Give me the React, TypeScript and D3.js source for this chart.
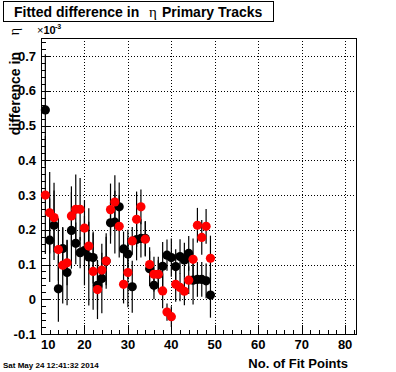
import * as d3 from 'd3';

// bins (no. of fit points)
const fitPoints = [11, 12, 13, 14, 15, 16, 17, 18, 19, 20, 21, 22, 23, 24, 25, 26, 27, 28, 29, 30,
  31, 32, 33, 34, 35, 36, 37, 38, 39, 40, 41, 42, 43, 44, 45, 46, 47, 48, 49];

// black series (x10^-3)
const blackVals = [0.545, 0.17, 0.213, 0.03, 0.146, 0.077, 0.198, 0.161, 0.134, 0.14, 0.122, 0.12, 0.04, 0.06, 0.11,
  0.22, 0.222, 0.266, 0.145, 0.13, 0.036, 0.172, 0.175, 0.175, 0.088, 0.04, 0.072, 0.095, 0.127, 0.12,
  0.094, 0.123, 0.113, 0.132, 0.055, 0.057, 0.057, 0.053, 0.012];
const blackErrs = [0.16, 0.12, 0.1, 0.095, 0.06, 0.094, 0.11, 0.06, 0.045, 0.1, 0.14, 0.075, 0.07, 0.1, 0.07,
  0.06, 0.09, 0.07, 0.05, 0.07, 0.075, 0.06, 0.055, 0.05, 0.05, 0.04, 0.05, 0.07, 0.045, 0.055,
  0.05, 0.05, 0.05, 0.05, 0.07, 0.05, 0.05, 0.05, 0.065];

// red series (x10^-3)
const redVals = [0.3, 0.249, 0.235, 0.143, 0.098, 0.105, 0.24, 0.259, 0.259, 0.205, 0.153, 0.08, 0.028, 0.084, 0.11,
  0.258, 0.28, 0.21, 0.043, 0.077, 0.168, 0.23, 0.266, 0.173, 0.1, 0.072, 0.072, 0.024, -0.037, -0.05,
  0.043, 0.034, 0.023, 0.055, 0.115, 0.213, 0.178, 0.21, 0.118];
const redErrs = [0.17, 0.117, 0.1, 0.09, 0.11, 0.065, 0.085, 0.1, 0.09, 0.08, 0.07, 0.11, 0.085, 0.05, 0.08,
  0.075, 0.077, 0.09, 0.055, 0.1, 0.04, 0.08, 0.05, 0.05, 0.05, 0.05, 0.04, 0.05, 0.025, 0.03,
  0.05, 0.04, 0.04, 0.04, 0.06, 0.05, 0.05, 0.05, 0.065];

const xTicks = [10, 20, 30, 40, 50, 60, 70, 80];
const yTicks = [-0.1, 0, 0.1, 0.2, 0.3, 0.4, 0.5, 0.6, 0.7];
const yTickLabels = ['-0.1', '0', '0.1', '0.2', '0.3', '0.4', '0.5', '0.6', '0.7'];

const W = 396;
const H = 372;
const frame = { left: 41, right: 356, top: 38, bottom: 334 };
const font = "'Liberation Sans', Arial, Helvetica, sans-serif";

export default function App() {
  const x = d3.scaleLinear().domain([10, 82.5]).range([frame.left, frame.right]);
  const y = d3.scaleLinear().domain([-0.1, 0.752]).range([frame.bottom, frame.top]);

  const xMinor = d3.range(10, 83, 2);
  const yMinor = d3.range(-5, 38).map(i => i * 0.02);

  const series = [
    { vals: blackVals, errs: blackErrs, color: '#000000' },
    { vals: redVals, errs: redErrs, color: '#ff0000' }
  ];

  return (
    <svg width={W} height={H} style={{ position: 'absolute', left: 0, top: 0, background: '#fff' }}>
      <rect x={0} y={0} width={W} height={H} fill="#fff" />

      {/* grid */}
      <g stroke="#000" strokeWidth={1} strokeDasharray="1,2" shapeRendering="crispEdges">
        {xTicks.slice(1).map(t => (
          <line key={'gx' + t} x1={Math.round(x(t)) + 0.5} x2={Math.round(x(t)) + 0.5} y1={frame.top} y2={frame.bottom} />
        ))}
        {yTicks.slice(1).map(t => (
          <line key={'gy' + t} x1={frame.left} x2={frame.right} y1={Math.round(y(t)) + 0.5} y2={Math.round(y(t)) + 0.5} />
        ))}
      </g>

      {/* frame */}
      <rect x={frame.left + 0.5} y={frame.top + 0.5} width={frame.right - frame.left} height={frame.bottom - frame.top}
        fill="none" stroke="#000" strokeWidth={1} shapeRendering="crispEdges" />

      {/* ticks */}
      <g stroke="#000" strokeWidth={1} shapeRendering="crispEdges">
        {xMinor.map(t => (
          <line key={'mx' + t} x1={Math.round(x(t)) + 0.5} x2={Math.round(x(t)) + 0.5} y1={frame.bottom} y2={frame.bottom - 4.5} />
        ))}
        {xTicks.map(t => (
          <line key={'tx' + t} x1={Math.round(x(t)) + 0.5} x2={Math.round(x(t)) + 0.5} y1={frame.bottom} y2={frame.bottom - 9} />
        ))}
        {yMinor.map(t => (
          <line key={'my' + t} x1={frame.left} x2={frame.left + 4.5} y1={Math.round(y(t)) + 0.5} y2={Math.round(y(t)) + 0.5} />
        ))}
        {yTicks.map(t => (
          <line key={'ty' + t} x1={frame.left} x2={frame.left + 9} y1={Math.round(y(t)) + 0.5} y2={Math.round(y(t)) + 0.5} />
        ))}
      </g>

      {/* tick labels */}
      <g fontFamily={font} fontWeight="bold" fontSize={13} fill="#000">
        {xTicks.map((t, i) => (
          <text key={'lx' + t} x={x(t)} y={349} textAnchor={i === 0 ? 'start' : 'middle'}>{t}</text>
        ))}
        {yTicks.map((t, i) => (
          <text key={'ly' + t} x={36} y={y(t)} dy="0.36em" textAnchor="end">{yTickLabels[i]}</text>
        ))}
      </g>

      {/* exponent */}
      <text x={37} y={34} fontFamily={font} fontSize={11} fill="#000">
        ×<tspan fontWeight="bold">10</tspan>
      </text>
      <text x={55} y={29} fontFamily={font} fontSize={7} fontWeight="bold" fill="#000">-3</text>

      {/* data */}
      {series.map((s, si) => (
        <g key={'s' + si}>
          {fitPoints.map((p, i) => (
            <line key={'e' + p} x1={x(p)} x2={x(p)} y1={y(s.vals[i] - s.errs[i])} y2={y(s.vals[i] + s.errs[i])}
              stroke="#000" strokeWidth={1.2} />
          ))}
          {fitPoints.map((p, i) => (
            <circle key={'m' + p} cx={x(p)} cy={y(s.vals[i])} r={4.6} fill={s.color} />
          ))}
        </g>
      ))}

      {/* axis titles */}
      <text x={348} y={368} textAnchor="end" fontFamily={font} fontWeight="bold" fontSize={13} fill="#000">No. of Fit Points</text>
      <text transform="translate(19.5,52) rotate(-90)" textAnchor="end" fontFamily={font} fontWeight="bold" fontSize={14} fill="#000">difference in</text>
      <text transform="translate(18.5,28) rotate(-90)" textAnchor="end" fontFamily="'Liberation Serif', serif" fontSize={14} fill="#000">η</text>

      {/* title box */}
      <rect x={3.5} y={1.5} width={270} height={20} fill="#fff" stroke="#000" strokeWidth={1} shapeRendering="crispEdges" />
      <text x={14} y={16.5} fontFamily={font} fontWeight="bold" fontSize={14} fill="#000">Fitted difference in</text>
      <text x={149} y={17} fontFamily="'Liberation Serif', serif" fontSize={15} fill="#000">η</text>
      <text x={162} y={16.5} fontFamily={font} fontWeight="bold" fontSize={14} fill="#000">Primary Tracks</text>

      {/* timestamp */}
      <text x={3} y={368} fontFamily={font} fontWeight="bold" fontSize={8} fill="#000">Sat May 24 12:41:32 2014</text>
    </svg>
  );
}
